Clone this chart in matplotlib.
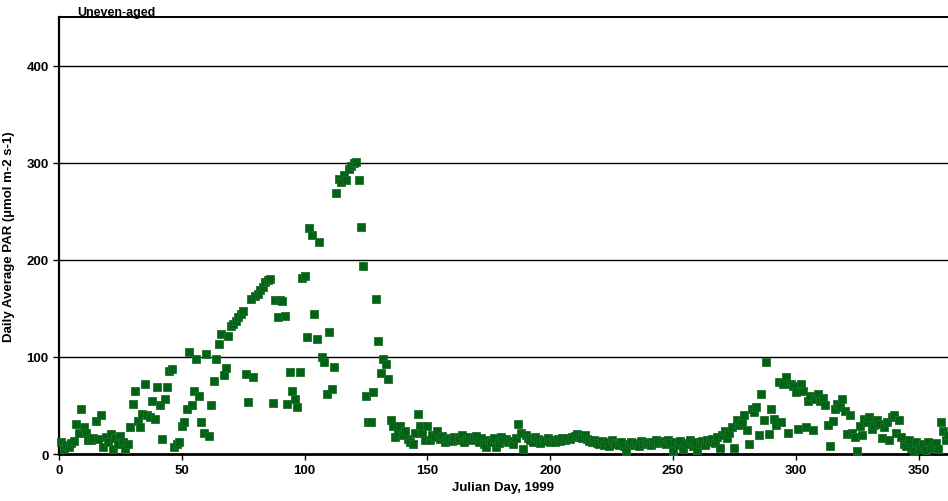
import numpy as np
import matplotlib.pyplot as plt

plt.rcParams['font.family'] = ['Liberation Sans', 'DejaVu Sans']

# ---- data: daily average PAR, day 1 .. 362 ----
par_1_60 = [12, 5, 9, 7, 11, 13, 31, 22, 46, 28,
            22, 14, 14, 16, 34, 15, 40, 7, 18, 12,
            21, 5, 16, 10, 19, 12, 5, 10, 28, 52,
            65, 34, 28, 41, 72, 40, 38, 55, 36, 69,
            50, 15, 57, 69, 86, 88, 7, 10, 12, 29,
            33, 46, 105, 50, 65, 98, 60, 33, 22, 103]
par_61_120 = [19, 50, 75, 98, 113, 124, 81, 89, 122, 132,
              134, 137, 141, 144, 147, 82, 54, 160, 79, 163,
              165, 169, 172, 177, 179, 180, 53, 159, 141, 159,
              158, 142, 52, 85, 65, 57, 48, 84, 181, 183,
              121, 233, 226, 144, 119, 218, 100, 95, 62, 126,
              67, 90, 269, 283, 280, 287, 282, 294, 297, 300]
par_121_180 = [301, 282, 234, 194, 60, 33, 33, 64, 160, 116,
               83, 98, 93, 77, 35, 29, 18, 22, 29, 20,
               24, 15, 12, 10, 22, 41, 29, 22, 14, 29,
               14, 20, 18, 24, 15, 19, 12, 17, 15, 13,
               18, 14, 16, 20, 12, 15, 18, 14, 17, 19,
               12, 16, 10, 7, 14, 12, 16, 7, 11, 18]
par_181_240 = [14, 15, 12, 13, 10, 16, 31, 22, 5, 20,
               17, 14, 12, 18, 15, 11, 14, 13, 16, 12,
               14, 12, 15, 13, 16, 14, 17, 15, 18, 19,
               21, 18, 16, 20, 15, 13, 12, 14, 11, 10,
               13, 9, 12, 8, 14, 11, 10, 9, 12, 8,
               3, 10, 12, 9, 11, 8, 13, 10, 12, 11]
par_241_300 = [9, 12, 14, 11, 13, 12, 10, 14, 11, 3,
               12, 9, 13, 5, 11, 10, 14, 8, 12, 4,
               10, 13, 9, 14, 12, 15, 11, 18, 6, 20,
               24, 16, 22, 28, 6, 35, 30, 33, 40, 25,
               10, 46, 43, 48, 20, 62, 35, 95, 21, 46,
               36, 30, 74, 33, 72, 79, 22, 72, 70, 64]
par_301_362 = [26, 72, 65, 28, 55, 60, 25, 57, 62, 55,
               58, 50, 30, 8, 34, 46, 52, 48, 57, 44,
               21, 40, 22, 18, 3, 29, 20, 36, 33, 38,
               26, 30, 35, 31, 16, 28, 33, 14, 38, 40,
               22, 35, 18, 10, 8, 14, 6, 3, 12, 5,
               8, 10, 4, 12, 6, 9, 11, 5, 33, 24,
               14, 20]

par = np.array(par_1_60 + par_61_120 + par_121_180 + par_181_240
               + par_241_300 + par_301_362)
day = np.arange(1, len(par) + 1)

x_ticks = [0, 50, 100, 150, 200, 250, 300, 350]
y_ticks = [0, 100, 200, 300, 400]

# ---- figure ----
fig = plt.figure(figsize=(9.48, 5.02), dpi=100)
ax = fig.add_axes([0.0622, 0.0936, 0.9378, 0.870])

for yv in y_ticks[1:]:
    ax.axhline(yv, color='black', lw=1.0, zorder=1)

ax.plot(day, par, 's', color='#006414', markersize=6.3,
        markeredgecolor='#1f6e2c', markeredgewidth=0.6, zorder=3,
        clip_on=False)

ax.set_xlim(0, 362)
ax.set_ylim(0, 450)
ax.set_xticks(x_ticks)
ax.set_yticks(y_ticks)
ax.tick_params(axis='both', direction='out', length=4, width=1,
               labelsize=9.5, colors='black')
for lab in ax.get_xticklabels() + ax.get_yticklabels():
    lab.set_fontweight('bold')

ax.spines['right'].set_visible(False)
ax.spines['left'].set_linewidth(1.6)
ax.spines['bottom'].set_linewidth(2.0)
ax.spines['top'].set_linewidth(1.4)

ax.set_xlabel('Julian Day, 1999', fontsize=9.5, fontweight='bold', labelpad=3)
ax.set_ylabel('Daily Average PAR (\u00b5mol m-2 s-1)', fontsize=9.5,
              fontweight='bold', labelpad=8)
fig.text(0.081, 0.974, 'Uneven-aged', fontsize=9, fontweight='bold',
         ha='left', va='center')

fig.savefig('out.png', dpi=100)
